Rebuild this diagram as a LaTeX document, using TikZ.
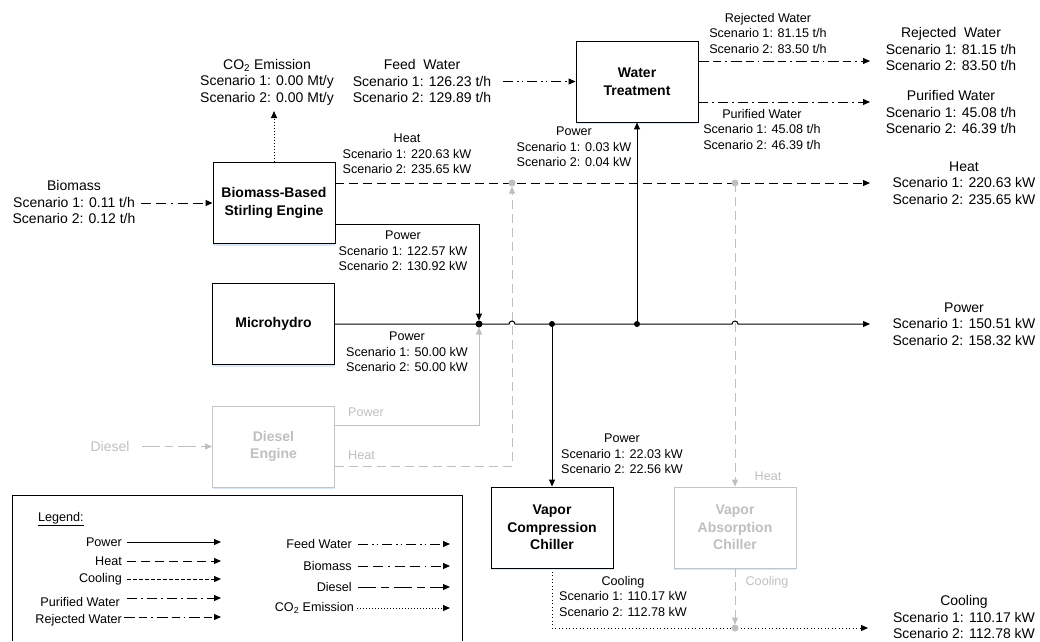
\documentclass[tikz,border=0pt]{standalone}
\usepackage{fontspec}
\setmainfont{Liberation Sans}
\usetikzlibrary{arrows.meta,shadows}
\definecolor{faded}{HTML}{BFBFBF}
\definecolor{glow}{HTML}{C9DDF2}

\begin{document}
\begin{tikzpicture}[x=1pt,y=-1pt,
                    unit/.style={draw,fill=white,line width=0.9pt,
                                 minimum width=122pt,minimum height=81pt,align=center,
                                 font=\fontsize{14}{17.5}\selectfont\bfseries,
                                 drop shadow={shadow xshift=0pt,shadow yshift=-2pt,fill=glow,opacity=0.7}},
                    offunit/.style={unit,draw=faded!90,text=faded},
                    lbl/.style={align=center,inner sep=0pt,font=\fontsize{12.6}{15.5}\selectfont},
                    endlbl/.style={align=center,inner sep=0pt,font=\fontsize{14}{16.5}\selectfont},
                    tip/.style={-{Triangle[length=7pt,width=6pt]}},
                    power/.style={tip,line width=1pt},
                    heat/.style={tip,line width=1pt,dash pattern=on 9pt off 5pt},
                    cooling/.style={tip,line width=1pt,dash pattern=on 1pt off 2.5pt},
                    purified/.style={tip,line width=1pt,dash pattern=on 10pt off 4pt on 2pt off 4pt},
                    rejected/.style={tip,line width=1pt,dash pattern=on 11pt off 4pt on 8pt off 4pt on 1.5pt off 4pt},
                    feed/.style={tip,line width=1pt,dash pattern=on 10pt off 4pt on 1.5pt off 3pt on 1.5pt off 4pt},
                    biomass/.style={tip,line width=1pt,dash pattern=on 10pt off 5pt on 10pt off 5pt on 1.5pt off 5pt},
                    diesel/.style={tip,line width=1pt,dash pattern=on 18pt off 5pt on 8pt off 5pt},
                    co2/.style={tip,line width=1pt,dash pattern=on 1pt off 2pt}]

\useasboundingbox (0,0) rectangle (1040,641);

%units
\node[unit]    (sse) at (274,203)   {Biomass-Based\\Stirling Engine};
\node[unit]    (mh)  at (273.5,324) {Microhydro};
\node[offunit] (de)  at (273.5,446.5) {Diesel\\Engine};
\node[unit]    (wt)  at (637,81.5)  {Water\\Treatment};
\node[unit]    (vcc) at (552,527.5) {Vapor\\Compression\\Chiller};
\node[offunit] (vac) at (735,527.5) {Vapor\\Absorption\\Chiller};

%joints and free ends
\coordinate (j1) at (479,324);
\coordinate (j2) at (552,324);
\coordinate (j3) at (637,324);
\coordinate (busout) at (870,324);
\coordinate (hd) at (512,183);
\coordinate (ha) at (735,183);
\coordinate (heatout) at (870,183);
\coordinate (dp) at (479,425);
\coordinate (dh) at (512,466);
\coordinate (cj) at (735,628);
\coordinate (coolout) at (868,628);
\coordinate (rj) at (870,61);
\coordinate (pw) at (870,102);
\coordinate (fw) at (503,81.5);
\coordinate (bm) at (141,203);
\coordinate (din) at (142,446.5);
\coordinate (co) at (274,111);

%diesel engine and absorption chiller (not used)
\draw[heat,faded] (de.east |- dh) -- (dh) -- ([yshift=-3.5pt]hd);
\draw[power,faded] (de.east |- dp) -- (dp) -- ([yshift=-3.5pt]j1);
\draw[heat,faded] (ha) -- (vac.north);
\draw[heat,faded] (vac.south) -- ([yshift=3.5pt]cj);
\draw[diesel,faded] (din) -- (de.west);

\node[lbl,faded,anchor=west] (dpl) at (348,412) {Power};
\node[lbl,faded,anchor=west] (dhl) at (348,455) {Heat};
\node[lbl,faded] (vhl) at (768,476) {Heat};
\node[lbl,faded] (vcl) at (767,582) {Cooling};
\node[endlbl,faded] (dinl) at (110,446.5) {Diesel};

%heat
\draw[heat] (sse.east |- heatout) -- (heatout);
%power
\draw[power] ([yshift=-21pt]sse.east) -| ([yshift=3.5pt]j1);
\draw[power] (mh.east) -- ([xshift=-3pt]j1 -| hd) arc (180:360:3)
                       -- ([xshift=-3pt]j1 -| ha) arc (180:360:3) -- (busout);
\draw[power] (j2) -- (vcc.north);
\draw[power] (j3) -- (wt.south);
%water
\draw[rejected] (wt.east |- rj) -- (rj);
\draw[purified] (wt.east |- pw) -- (pw);
\draw[feed] (fw) -- (wt.west);
%fuel and emission
\draw[biomass] (bm) -- (sse.west);
\draw[co2] (sse.north) -- (co);
%cooling
\draw[cooling] (vcc.south) |- (coolout);

\fill (j1) circle (3.5);
\fill (j2) circle (3);
\fill (j3) circle (3);
\fill[faded] (hd) circle (3.5);
\fill[faded] (ha) circle (3.5);
\fill[faded] (cj) circle (3.5);

%labels
\node[endlbl] (col) at (267,82)  {CO\textsubscript{2} Emission\\Scenario 1: 0.00 Mt/y\\Scenario 2: 0.00 Mt/y};
\node[endlbl] (bml) at (74,202)  {Biomass\\Scenario 1: 0.11 t/h\\Scenario 2: 0.12 t/h};
\node[endlbl] (fwl) at (422,81)  {Feed\ \ Water\\Scenario 1: 126.23 t/h\\Scenario 2: 129.89 t/h};
\node[lbl]    (rjl) at (768,33)  {Rejected Water\\Scenario 1: 81.15 t/h\\Scenario 2: 83.50 t/h};
\node[endlbl] (rjo) at (951,49)  {Rejected\ \ Water\\Scenario 1: 81.15 t/h\\Scenario 2: 83.50 t/h};
\node[lbl]    (pwl) at (762,129) {Purified Water\\Scenario 1: 45.08 t/h\\Scenario 2: 46.39 t/h};
\node[endlbl] (pwo) at (951,112) {Purified Water\\Scenario 1: 45.08 t/h\\Scenario 2: 46.39 t/h};
\node[lbl]    (hl)  at (407,154) {Heat\\Scenario 1: 220.63 kW\\Scenario 2: 235.65 kW};
\node[lbl]    (wpl) at (574,147) {Power\\Scenario 1: 0.03 kW\\Scenario 2: 0.04 kW};
\node[endlbl] (ho)  at (964,183) {Heat\\Scenario 1: 220.63 kW\\Scenario 2: 235.65 kW};
\node[lbl]    (spl) at (403,251) {Power\\Scenario 1: 122.57 kW\\Scenario 2: 130.92 kW};
\node[lbl]    (mpl) at (407,352) {Power\\Scenario 1: 50.00 kW\\Scenario 2: 50.00 kW};
\node[endlbl] (po)  at (964,324) {Power\\Scenario 1: 150.51 kW\\Scenario 2: 158.32 kW};
\node[lbl]    (vpl) at (622,454) {Power\\Scenario 1: 22.03 kW\\Scenario 2: 22.56 kW};
\node[lbl]    (cl)  at (623,596) {Cooling\\Scenario 1: 110.17 kW\\Scenario 2: 112.78 kW};
\node[endlbl] (clo) at (964,617) {Cooling\\Scenario 1: 110.17 kW\\Scenario 2: 112.78 kW};

%legend
\draw[line width=0.8pt] (12,641) |- (462,495) -- (462,641);
\node[lbl,anchor=west] (lg) at (38,519) {\underline{Legend:}};

\node[lbl,anchor=east] (lpo) at (122,542) {Power};
\node[lbl,anchor=east] (lhe) at (122,561) {Heat};
\node[lbl,anchor=east] (lco) at (122,579) {Cooling};
\node[lbl,anchor=east] (lpu) at (120,602) {Purified Water};
\node[lbl,anchor=east] (lre) at (122,620) {Rejected Water};
\draw[power] ([xshift=5pt]lpo.east) -- ++(94,0);
\draw[heat] ([xshift=5pt]lhe.east) -- ++(94,0);
\draw[cooling,dash pattern=on 4pt off 2pt] ([xshift=5pt]lco.east) -- ++(94,0);
\draw[purified] ([xshift=7pt,yshift=4pt]lpu.east) -- ++(94,0);
\draw[rejected] ([xshift=2pt,yshift=3pt]lre.east) -- ++(97,0);

\node[lbl,anchor=east] (lfw) at (352,544) {Feed Water};
\node[lbl,anchor=east] (lbm) at (352,566) {Biomass};
\node[lbl,anchor=east] (ldi) at (352,587) {Diesel};
\node[lbl,anchor=east] (lem) at (354,608) {CO\textsubscript{2} Emission};
\draw[feed] ([xshift=6pt]lfw.east) -- ++(92,0);
\draw[biomass] ([xshift=6pt]lbm.east) -- ++(92,0);
\draw[diesel] ([xshift=6pt]ldi.east) -- ++(92,0);
\draw[co2] ([xshift=3pt]lem.east) -- ++(93,0);

\end{tikzpicture}
\end{document}
